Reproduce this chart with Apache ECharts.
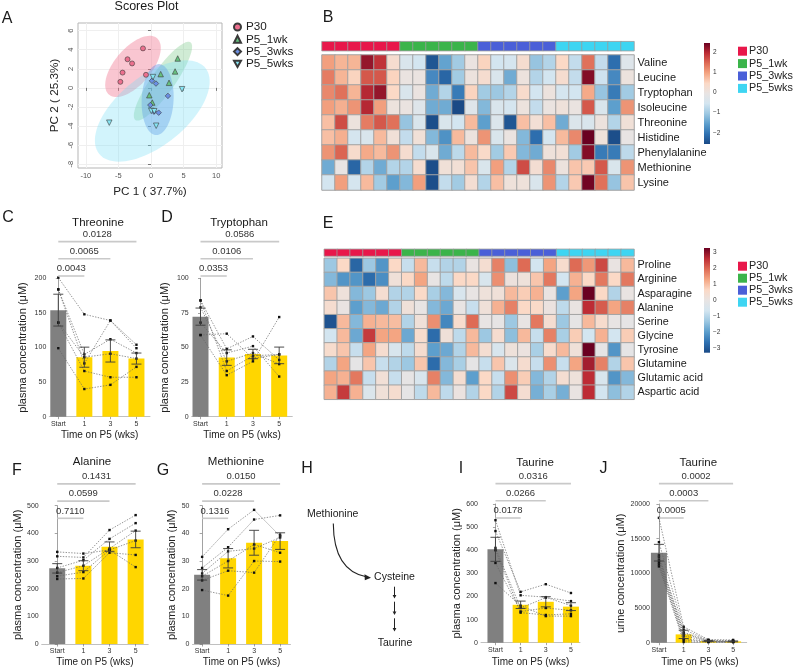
<!DOCTYPE html>
<html><head><meta charset="utf-8">
<script src="https://cdn.jsdelivr.net/npm/echarts@6/dist/echarts.min.js"></script>
<style>html,body{margin:0;padding:0;background:#fff}#c{width:795px;height:670px}</style>
</head><body><div id="c"></div>
<script>
const FONT = '"Liberation Sans", Arial, Helvetica, sans-serif';

// ---------- Panel A : PCA scores ----------
const groupNames = ['P30', 'P5_1wk', 'P5_3wks', 'P5_5wks'];
const pcaP30   = [[-1.23,4.14],[-3.6,3.0],[-2.9,2.56],[-4.36,1.6],[-4.7,0.63],[-0.77,1.37]];
const pca1wk   = [[4.1,3.08],[3.7,1.72],[1.49,1.44],[2.77,0.53],[-0.26,-0.77],[0.2,-1.54]];
const pca3wks  = [[0.15,0.74],[0.77,0.45],[2.6,-0.84],[-0.1,-1.8],[0.46,-2.5],[1.18,-2.6]];
const pca5wks  = [[0.3,1.13],[4.77,-0.14],[-6.4,-3.65],[0.8,-3.97],[0.05,-2.42],[0.5,-2.45]];
// confidence ellipses: centre, major half-axis vector, minor half-axis vector (data units)
const ellCentre = [[-2.76,2.25],[1.84,0.70],[1.02,-1.23],[0.2,-2.42]];
const ellMajor  = [[3.7,2.95],[4.23,4.07],[0.2,3.72],[8.16,4.49]];
const ellMinor  = [[2.12,-1.26],[1.45,-0.72],[2.45,0],[3.32,-2.84]];
const pcXTicks = [-10,-5,0,5,10];
const pcYTicks = [-8,-6,-4,-2,0,2,4,6];

// ---------- Heatmaps ----------
const sampleGroup = [0,0,0,0,0,0,1,1,1,1,1,1,2,2,2,2,2,2,3,3,3,3,3,3];
const heatBRows = ['Valine','Leucine','Tryptophan','Isoleucine','Threonine','Histidine','Phenylalanine','Methionine','Lysine'];
const heatBVals = [
 [1.0,0.8,0.8,2.2,1.9,0.3,-0.4,-0.55,-2.4,-1.5,-1.0,0.0, 0.5,-0.55,-0.5,0.3,-1.1,-0.85,0.45,-0.7,1.4,-0.7,-2.1,-0.3],
 [1.3,0.8,0.5,1.6,1.6,0.5,0.0,0.0,-1.8,-2.2,-1.0,0.05, 0.3,-0.4,-1.4,0.05,-0.85,-0.55,0.3,-0.7,2.3,-0.6,-1.8,0.05],
 [1.2,1.4,0.8,2.0,2.2,0.45,-0.4,0.0,-1.4,-0.85,-1.95,0.5, -1.0,-1.05,-0.85,0.35,-0.55,0.05,-0.5,-0.55,0.9,-1.1,-1.95,-1.0],
 [1.0,0.85,1.1,2.0,1.0,0.05,0.0,-0.3,-1.4,-1.4,-2.55,-0.3, -1.25,-0.4,-0.5,0.05,-0.7,0.0,0.1,0.0,1.6,-0.4,-1.55,1.1],
 [0.7,1.7,0.05,1.3,1.6,1.4,-1.1,-0.4,-2.5,-0.4,-0.55,0.75, -1.55,-0.35,-2.4,0.7,0.2,0.7,-1.4,-0.35,-0.4,0.05,-0.85,0.15],
 [0.7,0.85,-0.5,-0.4,0.75,0.15,-0.7,0.15,-1.25,-1.7,0.75,0.05, 1.1,-0.4,0.0,-1.25,-2.1,-0.5,0.75,1.2,2.6,0.1,-2.5,-0.05],
 [1.1,1.5,0.35,0.9,0.75,1.1,0.3,-0.7,-0.4,-1.4,-0.75,0.75, 0.4,-1.0,0.6,-1.25,-1.4,0.1,0.2,-1.0,2.3,-1.95,-1.95,-0.75],
 [-1.4,-0.05,-2.2,-0.85,-1.4,-0.85,-0.85,0.3,-2.5,0.15,0.2,0.65, -0.4,1.0,-0.85,1.7,0.25,1.2,0.05,0.65,0.6,1.6,-0.4,1.1],
 [-0.55,1.0,-0.5,0.75,-1.0,-1.55,-1.25,1.0,-2.5,-0.7,-1.0,0.25, -0.85,0.7,0.1,0.1,-0.4,1.1,-0.85,0.6,2.4,1.4,-1.1,0.65]
];
const heatERows = ['Proline','Arginine','Asparagine','Alanine','Serine','Glycine','Tyrosine','Glutamine','Glutamic acid','Aspartic acid'];
const heatEVals = [
 [-1.3,0.65,-2.8,-1.3,-2.1,0.65,-0.8,1.05,-0.8,-1.05,-1.05,0.05, 0.4,1.7,-1.45,1.95,-0.65,1.3,0.5,1.95,1.45,2.3,0.05,1.05],
 [-1.55,-2.1,-2.1,-2.7,-2.2,0.25,0.65,1.3,0.0,-0.9,0.65,0.65, -0.5,1.55,0.15,0.2,0.9,1.8,-0.65,1.15,0.65,1.8,0.65,1.8],
 [0.9,0.2,-1.55,-1.3,0.4,-1.05,-1.05,0.6,-1.15,-1.55,-0.5,0.0, 0.2,0.25,1.05,0.8,1.15,0.05,-1.95,1.3,3.3,0.65,-1.05,0.05],
 [0.45,0.05,-1.95,-1.55,-1.8,-1.05,0.25,0.0,-1.55,-1.8,0.0,-0.8, 0.25,1.15,1.7,0.65,0.6,0.1,-0.9,0.05,2.6,2.1,1.3,1.7],
 [-3.1,1.05,-1.55,1.15,1.05,1.0,-1.05,0.25,1.55,-2.3,0.5,1.95, 0.0,-0.05,-1.3,0.0,1.8,0.4,-1.3,-0.1,1.05,0.5,0.0,-0.1],
 [-0.65,1.05,-1.8,2.45,1.3,1.3,-1.8,0.5,-2.7,0.25,-0.9,1.05, -1.3,0.45,-1.45,1.05,-0.8,1.7,-1.15,0.8,-0.65,1.15,-0.65,0.8],
 [0.5,0.9,-0.8,1.3,0.45,-0.5,-0.9,0.45,-1.95,-1.8,-1.05,1.05, 0.4,-0.5,0.2,0.1,-1.15,0.5,1.05,0.25,3.3,-0.1,-2.1,-0.1],
 [-1.05,1.3,-0.1,0.9,-0.8,-1.05,-1.3,0.9,-2.7,-1.55,-1.15,-0.1, -0.8,0.9,-0.4,0.45,-0.8,1.55,-0.8,1.3,2.8,1.7,-1.05,0.9],
 [1.3,1.15,1.8,-0.8,0.3,-0.8,-0.05,-0.5,1.7,-1.55,0.4,-1.95, 0.65,-0.8,1.55,0.8,-1.55,-1.05,0.4,0.2,2.6,-0.5,-2.1,-1.55],
 [1.15,2.45,1.15,-0.4,0.25,0.45,-0.1,-0.9,1.05,-0.9,0.1,-1.05, 0.65,-1.05,2.3,0.4,-1.7,-1.15,-1.7,0.05,2.6,-0.65,-1.45,-1.05]
];
const colorbarBTicks = [-2,-1,0,1,2];
const colorbarETicks = [-3,-2,-1,0,1,2,3];

// ---------- Bar panels ----------
const timeCats = ['Start','1','3','5'];
const thrMeans = [154,86,95,84],   thrSem = [23,14.5,16,8];
const thrSubj  = [[201,148,139,104],[184,90,112,92],[184,77,139,99],[136,86,91,84],[136,66,57,57],[99,40,46,72]];
const thrP     = ['0.0043','0.0065','0.0128'];
const trpMeans = [72.3,42.7,45.3,44.3], trpSem = [6.2,5.6,3.4,6];
const trpSubj  = [[84,49,58,41],[84,33,44,45],[79,40,46,38],[68,46,51,29],[59,60,42,45],[59,30,40,72]];
const trpP     = ['0.0353','0.0106','0.0586'];
const alaMeans = [273.5,283,352,378], alaSem = [17,18,17,30];
const alaSubj  = [[333,327,340,278],[317,313,412,466],[275,303,380,437],[258,283,345,410],[245,260,340,374],[235,237,330,322]];
const alaP     = ['0.7110','0.0599','0.1431'];
const metMeans = [25,31,36.6,37.2], metSem = [1.9,3.5,4.5,3];
const metSubj  = [[31.5,41.5,48.5,39],[27.5,35,45,46.5],[25.5,33.5,34.5,38.5],[24.5,30,36,33],[23,26.5,25.8,39.5],[19.5,17.5,30,29.8]];
const metP     = ['0.1316','0.0228','0.0150'];
const tauPMeans = [404,164,177,156], tauPSem = [52,16,22,17];
const tauPSubj  = [[530,205,197,160],[483,220,253,215],[410,150,195,180],[345,135,150,140],[400,130,120,125],[258,160,115,115]];
const tauPP     = ['0.0178','0.0266','0.0316'];
const tauUMeans = [12980,1200,240,190], tauUSem = [1200,600,80,60];
const tauUSubj  = [[18000,2300,450,400],[14500,1900,350,300],[12600,1500,300,200],[12300,1300,250,150],[11900,1000,200,150],[11600,600,150,100],[11300,400,100,100],[11000,100,100,100]];
const tauUP     = ['0.0005','0.0003','0.0002'];

// ---------- build option ----------
const grids=[], xAxes=[], yAxes=[], series=[], visualMaps=[], graphics=[];
function addGrid(g, xa, ya){ const i=grids.length; grids.push(g); xa.gridIndex=i; ya.gridIndex=i; xAxes.push(xa); yAxes.push(ya); return i; }
function txt(t, x, y, size, opt){ graphics.push(Object.assign({type:'text', x:x, y:y, silent:true, style:Object.assign({text:t, align:'center', verticalAlign:'middle', fontSize:size, fontFamily:FONT, fill:'#1a1a1a'}, opt||{})})); }

// Panel A
const gA = addGrid({left:78, top:23, width:144, height:145, show:true, borderColor:'#b5b5b5', borderWidth:1, backgroundColor:'#fff'},
 {type:'value', min:-11.2, max:10.9, axisLine:{show:false},
  axisTick:{show:true, length:3, customValues:pcXTicks, lineStyle:{color:'#777'}},
  axisLabel:{customValues:pcXTicks, fontSize:7.5, color:'#555', margin:4, fontFamily:FONT},
  splitLine:{show:true, lineStyle:{color:'#efefef'}},
  name:'PC 1 ( 37.7%)', nameLocation:'middle', nameGap:18, nameTextStyle:{fontSize:11.7, color:'#222', fontFamily:FONT}},
 {type:'value', min:-8.4, max:6.8, axisLine:{show:false},
  axisTick:{show:true, length:3, customValues:pcYTicks, lineStyle:{color:'#777'}},
  axisLabel:{customValues:pcYTicks, fontSize:7.5, color:'#555', margin:3, rotate:90, fontFamily:FONT},
  splitLine:{show:true, lineStyle:{color:'#efefef'}},
  name:'PC 2 ( 25.3%)', nameLocation:'middle', nameGap:17, nameTextStyle:{fontSize:11.7, color:'#222', fontFamily:FONT}});
const ellFill = ['rgba(240,120,145,0.42)','rgba(110,195,125,0.32)','rgba(95,135,225,0.42)','rgba(115,222,245,0.32)'];
ellCentre.forEach((c,k)=>{
  series.push({type:'custom', xAxisIndex:gA, yAxisIndex:gA, silent:true, z:1, data:[c],
    renderItem:(params, api)=>{
      const a=ellMajor[k], b=ellMinor[k], pts=[];
      for(let s=0;s<90;s++){ const t=s/90*2*Math.PI;
        pts.push(api.coord([c[0]+Math.cos(t)*a[0]+Math.sin(t)*b[0], c[1]+Math.cos(t)*a[1]+Math.sin(t)*b[1]])); }
      return {type:'polygon', shape:{points:pts}, style:{fill:ellFill[k], stroke:null}};
    }});
});
const invTri = 'path://M0,0L10,0L5,9Z';
const pcaSets = [pcaP30, pca1wk, pca3wks, pca5wks];
const pcaSym = ['circle','triangle','diamond',invTri];
const pcaCol = ['#ec6f8e','#66c27f','#6a8ee3','#86e6f5'];
const pcaSize = [5,5.5,5.5,5.5];
pcaSets.forEach((d,k)=>{
  series.push({type:'scatter', name:groupNames[k], xAxisIndex:gA, yAxisIndex:gA, z:3, data:d, symbol:pcaSym[k], symbolSize:pcaSize[k],
    itemStyle:{color:pcaCol[k], borderColor:'#3a3a3a', borderWidth:0.6, opacity:1}});
});

// Heatmaps
const pal = ['#1a4a86','#2f72b2','#5d9fcd','#9dc8e2','#d3e5f0','#e8e4e3','#fbd9c6','#f4a582','#de6b55','#bd2c35','#6a0021'];
const annColors = ['#e8174a','#3bb44a','#4a5fd8','#3ed5f2'];
const annSeries = [];
function heatPanel(cfg){
  const cols = sampleGroup.map((g,i)=>String(i));
  const ga = addGrid({left:cfg.left, top:cfg.annTop, width:cfg.width, height:cfg.annH},
    {type:'category', data:cols, show:false}, {type:'category', data:['grp'], show:false});
  annSeries.push(series.length);
  series.push({type:'heatmap', xAxisIndex:ga, yAxisIndex:ga, data:sampleGroup.map((g,i)=>[i,0,g]),
    itemStyle:{borderColor:'#9c9c9c', borderWidth:0.8}, silent:true});
  const gb = addGrid({left:cfg.left, top:cfg.top, width:cfg.width, height:cfg.height},
    {type:'category', data:cols, show:false},
    {type:'category', data:cfg.rows, inverse:true, position:'right', axisLine:{show:false}, axisTick:{show:false},
     axisLabel:{interval:0, fontSize:cfg.font, color:'#1a1a1a', margin:3.5, fontFamily:FONT}});
  const data=[]; cfg.vals.forEach((row,r)=>row.forEach((v,c)=>data.push([c,r,v])));
  const si = series.length;
  series.push({type:'heatmap', xAxisIndex:gb, yAxisIndex:gb, data:data, itemStyle:{borderColor:'#a3a3a3', borderWidth:1}, silent:true});
  visualMaps.push({type:'continuous', show:false, seriesIndex:si, dimension:2, min:cfg.lo, max:cfg.hi, inRange:{color:pal}});
  // colour bar
  const gc = addGrid({left:704, top:cfg.cbTop, width:6, height:cfg.cbH},
    {type:'value', min:0, max:1, show:false},
    {type:'value', min:cfg.lo, max:cfg.hi, position:'right', axisLine:{show:false}, splitLine:{show:false},
     axisTick:{show:true, customValues:cfg.ticks, length:2, lineStyle:{color:'#555', width:0.6}},
     axisLabel:{customValues:cfg.ticks, fontSize:6.5, color:'#333', margin:3, fontFamily:FONT, formatter:v=>(v<0?'\u2212'+(-v):String(v))}});
  series.push({type:'custom', xAxisIndex:gc, yAxisIndex:gc, silent:true, data:[[0.5,0]],
    renderItem:(params, api)=>{ const cs=params.coordSys;
      return {type:'rect', shape:{x:cs.x, y:cs.y, width:cs.width, height:cs.height},
        style:{fill:new echarts.graphic.LinearGradient(0,0,0,1, pal.slice().reverse().map((c,i)=>({offset:i/(pal.length-1), color:c})))}}; }});
}
heatPanel({left:322, annTop:41.7, annH:9, top:55, width:312, height:135, rows:heatBRows, vals:heatBVals, lo:-2.55, hi:2.45, cbTop:43, cbH:101, ticks:colorbarBTicks, font:11});
heatPanel({left:324.3, annTop:249.3, annH:6.7, top:258.3, width:309.7, height:141, rows:heatERows, vals:heatEVals, lo:-3.25, hi:3.25, cbTop:248, cbH:104.7, ticks:colorbarETicks, font:10.8});
visualMaps.push({type:'piecewise', show:false, seriesIndex:annSeries, dimension:2,
  pieces:annColors.map((c,i)=>({value:i, color:c}))});

// Bar panels
function barPanel(p){
  const gi = addGrid({left:p.left, top:p.top, width:p.width, height:p.height},
    {type:'value', min:p.xmin, max:p.xmax, splitLine:{show:false},
     axisLine:{show:true, onZero:false, lineStyle:{color:'#b0b0b0', width:0.8}},
     axisTick:{show:true, customValues:[0,1,2,3], length:2.5, lineStyle:{color:'#666', width:0.6}},
     axisLabel:{customValues:[0,1,2,3], formatter:v=>timeCats[Math.round(v)], fontSize:7, color:'#333', margin:3.5, fontFamily:FONT},
     name:'Time on P5 (wks)', nameLocation:'middle', nameGap:p.xGap, nameTextStyle:{fontSize:10, color:'#222', fontFamily:FONT}},
    {type:'value', min:0, max:p.ymax, interval:p.yint, splitLine:{show:false},
     axisLine:{show:true, lineStyle:{color:'#8a8a8a', width:0.8}},
     axisTick:{show:true, length:2.5, lineStyle:{color:'#666', width:0.6}},
     axisLabel:{fontSize:7, color:'#333', margin:3, fontFamily:FONT, formatter:v=>String(v)},
     name:p.yName, nameLocation:'middle', nameGap:p.yGap, nameTextStyle:{fontSize:11, color:'#222', fontFamily:FONT}});
  series.push({type:'bar', xAxisIndex:gi, yAxisIndex:gi, barWidth:16, z:2, silent:true,
    data:p.means.map((m,i)=>({value:[i,m], itemStyle:{color:i===0?'#808080':'#ffd600'}}))});
  series.push({type:'custom', xAxisIndex:gi, yAxisIndex:gi, z:5, silent:true,
    data:p.means.map((m,i)=>[i,m,p.sem[i]]),
    renderItem:(params, api)=>{
      const x=api.value(0), m=api.value(1), s=api.value(2);
      const t=api.coord([x,m+s]), b=api.coord([x,Math.max(0,m-s)]), hw=5;
      const st={stroke:'#3a3a3a', lineWidth:0.9};
      return {type:'group', children:[
        {type:'line', shape:{x1:t[0],y1:t[1],x2:b[0],y2:b[1]}, style:st},
        {type:'line', shape:{x1:t[0]-hw,y1:t[1],x2:t[0]+hw,y2:t[1]}, style:st},
        {type:'line', shape:{x1:b[0]-hw,y1:b[1],x2:b[0]+hw,y2:b[1]}, style:st}]};
    }});
  series.push({type:'custom', xAxisIndex:gi, yAxisIndex:gi, z:4, silent:true, data:p.subj,
    renderItem:(params, api)=>{
      const pts=[0,1,2,3].map(i=>api.coord([i, api.value(i)]));
      const ch=[{type:'polyline', shape:{points:pts}, style:{stroke:'#666', lineWidth:0.7, lineDash:[1.4,1.4], fill:null}}];
      pts.forEach(q=>ch.push({type:'rect', shape:{x:q[0]-1.2, y:q[1]-1.2, width:2.4, height:2.4}, style:{fill:'#111'}}));
      return {type:'group', children:ch};
    }});
  series.push({type:'custom', xAxisIndex:gi, yAxisIndex:gi, z:6, silent:true,
    data:p.pv.map((s,k)=>[k+1,k]),
    renderItem:(params, api)=>{
      const cs=params.coordSys, tgt=api.value(0), k=api.value(1);
      const x1=api.coord([0,0])[0], x2=api.coord([tgt,0])[0];
      const y=cs.y + p.brOff - k*17.2;
      return {type:'group', children:[
        {type:'line', shape:{x1:x1,y1:y,x2:x2,y2:y}, style:{stroke:'#c9c9c9', lineWidth:1.6}},
        {type:'text', style:{text:p.pv[k], x:(x1+x2)/2, y:y-7.3, align:'center', verticalAlign:'middle', fontSize:9.5, fill:'#333', fontFamily:FONT}}]};
    }});
  txt(p.title, p.titleX, p.titleY, 11.5);
}
barPanel({left:49.3, top:278.3, width:100.7, height:138.4, xmin:-0.345, xmax:3.52, ymax:200, yint:50, means:thrMeans, sem:thrSem, subj:thrSubj, pv:thrP, brOff:-2.3, title:'Threonine', titleX:98, titleY:222.7, yName:'plasma concentration (μM)', yGap:21, xGap:13.5});
barPanel({left:191.7, top:278.3, width:100.6, height:138.4, xmin:-0.336, xmax:3.5, ymax:100, yint:25, means:trpMeans, sem:trpSem, subj:trpSubj, pv:trpP, brOff:-2.3, title:'Tryptophan', titleX:239, titleY:222.7, yName:'plasma concentration (μM)', yGap:21, xGap:13.5});
barPanel({left:41.7, top:505.7, width:106.5, height:138.3, xmin:-0.594, xmax:3.48, ymax:500, yint:100, means:alaMeans, sem:alaSem, subj:alaSubj, pv:alaP, brOff:12.6, title:'Alanine', titleX:92, titleY:462.3, yName:'plasma concentration (μM)', yGap:13.5, xGap:13.5});
barPanel({left:192.5, top:505.7, width:98, height:138.3, xmin:-0.37, xmax:3.4, ymax:50, yint:10, means:metMeans, sem:metSem, subj:metSubj, pv:metP, brOff:12.6, title:'Methionine', titleX:236, titleY:462.3, yName:'plasma concentration (μM)', yGap:8.5, xGap:13.5});
barPanel({left:481, top:504, width:99, height:138.7, xmin:-0.575, xmax:3.36, ymax:600, yint:100, means:tauPMeans, sem:tauPSem, subj:tauPSubj, pv:tauPP, brOff:14, title:'Taurine', titleX:535, titleY:462.7, yName:'plasma concentration (μM)', yGap:12, xGap:14.5});
barPanel({left:653, top:504, width:93.7, height:138.7, xmin:-0.24, xmax:3.55, ymax:20000, yint:5000, means:tauUMeans, sem:tauUSem, subj:tauUSubj, pv:tauUP, brOff:14, title:'Taurine', titleX:698.3, titleY:462.7, yName:'urine concentration (μM)', yGap:14, xGap:14.5});

// titles & panel letters
txt('Scores Plot', 146.5, 6.5, 12.5);
[['A',7,19],['B',328,18],['C',8,218],['D',167,218],['E',328,224],['F',17,471],['G',163,471],['H',307,469],['I',461,469],['J',603.5,469]]
  .forEach(l=>txt(l[0], l[1], l[2], 16));

// Panel H : pathway
txt('Methionine', 332.7, 514, 10.5);
txt('Cysteine', 394.5, 577.3, 10.5);
txt('Taurine', 395, 642.7, 10.5);
graphics.push({type:'bezierCurve', silent:true, shape:{x1:333.3, y1:523.5, cpx1:333.5, cpy1:556, cpx2:345, cpy2:573, x2:367, y2:577},
  style:{stroke:'#222', lineWidth:1.1, fill:null}});
graphics.push({type:'polygon', silent:true, shape:{points:[[371,577.8],[364.5,574.3],[364.8,580.3]]}, style:{fill:'#222'}});
[[586.7,598.5],[601.7,615],[618.3,631.5]].forEach(s=>{
  graphics.push({type:'line', silent:true, shape:{x1:394.5, y1:s[0], x2:394.5, y2:s[1]-2}, style:{stroke:'#222', lineWidth:1}});
  graphics.push({type:'polygon', silent:true, shape:{points:[[394.5,s[1]],[392.6,s[1]-3.6],[396.4,s[1]-3.6]]}, style:{fill:'#222'}});
});

const legendCommon = {orient:'vertical', selectedMode:false, padding:0};
const option = {
  animation:false,
  backgroundColor:'#fff',
  textStyle:{fontFamily:FONT},
  grid:grids, xAxis:xAxes, yAxis:yAxes, series:series, visualMap:visualMaps,
  legend:[
    Object.assign({left:233, top:21, itemWidth:7, itemHeight:7, itemGap:0.3, textStyle:{fontSize:11.7, color:'#222', lineHeight:12, fontFamily:FONT},
      data:[{name:'P30', icon:'circle'},{name:'P5_1wk', icon:'triangle'},{name:'P5_3wks', icon:'diamond'},{name:'P5_5wks', icon:invTri}]}, legendCommon),
    Object.assign({left:738, top:45.7, itemWidth:9, itemHeight:9, itemGap:1.4, textStyle:{fontSize:10.8, color:'#222', lineHeight:10, fontFamily:FONT, padding:[0,0,0,-3]},
      data:groupNames.map((n,i)=>({name:n, icon:'rect', itemStyle:{color:annColors[i], borderWidth:0}}))}, legendCommon),
    Object.assign({left:738, top:260.7, itemWidth:9, itemHeight:9, itemGap:1, textStyle:{fontSize:10.8, color:'#222', lineHeight:10, fontFamily:FONT, padding:[0,0,0,-3]},
      data:groupNames.map((n,i)=>({name:n, icon:'rect', itemStyle:{color:annColors[i], borderWidth:0}}))}, legendCommon)
  ],
  graphic:graphics
};
const chart = echarts.init(document.getElementById('c'), null, {renderer:'canvas'});
chart.setOption(option);
</script></body></html>
